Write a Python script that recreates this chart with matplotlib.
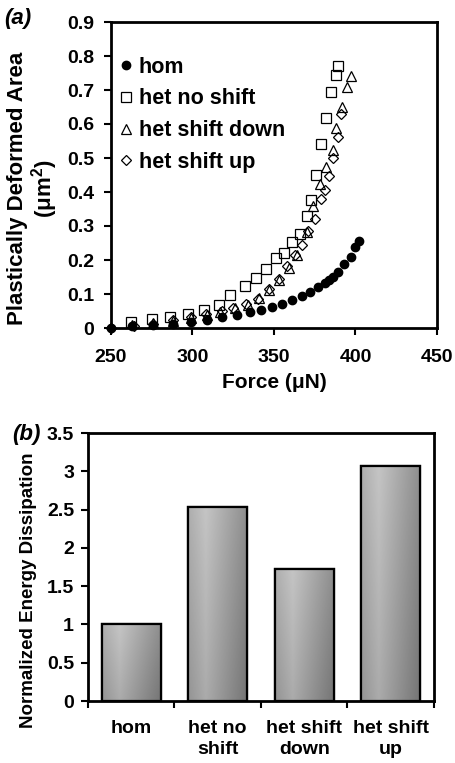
import numpy as np
import matplotlib
matplotlib.use("Agg")
import matplotlib.pyplot as plt

plt.rcParams.update({
    'font.family': ['Liberation Sans', 'DejaVu Sans'],
    'font.weight': 'bold',
    'axes.labelweight': 'bold',
    'mathtext.default': 'regular',
    'font.size': 14,
})

# (a) plastically deformed area vs force
hom_force = [250, 263, 276, 288, 299, 309, 318, 327, 335, 342, 349, 355, 361,
             367, 372, 377, 381, 384, 386, 389, 393, 397, 400, 402]
hom_area = [0, 0.005, 0.008, 0.013, 0.018, 0.023, 0.032, 0.038, 0.046, 0.053,
            0.062, 0.070, 0.082, 0.094, 0.105, 0.120, 0.132, 0.142, 0.150,
            0.164, 0.188, 0.209, 0.238, 0.257]

noshift_force = [262, 275, 286, 297, 307, 316, 323, 332, 339, 345, 351, 356,
                 361, 366, 370, 373, 376, 379, 382, 385, 388, 389]
noshift_area = [0.017, 0.026, 0.031, 0.042, 0.053, 0.067, 0.096, 0.123, 0.146,
                0.175, 0.205, 0.222, 0.254, 0.277, 0.328, 0.376, 0.451, 0.542,
                0.619, 0.694, 0.745, 0.770]

down_force = [263, 276, 288, 299, 309, 317, 326, 334, 341, 347, 353, 359, 364,
              370, 374, 378, 382, 386, 388, 392, 395, 397]
down_area = [0.008, 0.015, 0.020, 0.029, 0.037, 0.046, 0.058, 0.068, 0.088,
             0.113, 0.142, 0.176, 0.216, 0.282, 0.360, 0.424, 0.475, 0.524,
             0.588, 0.650, 0.709, 0.742]

up_force = [250, 264, 276, 288, 299, 308, 318, 325, 333, 340, 347, 353, 358,
            363, 367, 371, 375, 379, 381, 384, 386, 389, 391]
up_area = [0, 0.007, 0.013, 0.025, 0.032, 0.040, 0.051, 0.060, 0.072, 0.085,
           0.115, 0.145, 0.181, 0.216, 0.244, 0.285, 0.321, 0.378, 0.406,
           0.447, 0.501, 0.562, 0.630]

# (b) normalized energy dissipation
categories = ['hom', 'het no\nshift', 'het shift\ndown', 'het shift\nup']
energy = [1.0, 2.54, 1.73, 3.07]

W, H = 456, 763
fig = plt.figure(figsize=(W / 100, H / 100), dpi=100)

############## (a) ##############
ax1 = fig.add_axes([111 / W, 1 - 328 / H, 326 / W, 306 / H])
ax1.plot(hom_force, hom_area, 'o', color='black', ms=6, label='hom', clip_on=False, zorder=5)
ax1.plot(noshift_force, noshift_area, 's', mfc='none', mec='black', mew=0.9, ms=6.5, label='het no shift')
ax1.plot(down_force, down_area, '^', mfc='none', mec='black', mew=0.9, ms=7, label='het shift down')
ax1.plot(up_force, up_area, 'D', mfc='none', mec='black', mew=0.9, ms=5, label='het shift up', clip_on=False)

ax1.set_xlim(250, 450)
ax1.set_ylim(0, 0.9)
ax1.set_xticks([250, 300, 350, 400, 450])
ax1.set_yticks(np.arange(0, 0.91, 0.1))
ax1.set_yticklabels(['0'] + ['%.1f' % v for v in np.arange(0.1, 0.91, 0.1)])
ax1.tick_params(direction='out', length=5, width=1.5, labelsize=14)
ax1.tick_params(axis='x', pad=10)
ax1.tick_params(axis='y', pad=7)
for s in ax1.spines.values():
    s.set_linewidth(2)
ax1.set_xlabel('Force (μN)', fontsize=15, labelpad=5)
ax1.set_ylabel('Plastically Deformed Area\n(μm$^2$)', fontsize=16,
               linespacing=1.05)
ax1.yaxis.set_label_coords(-0.155, 0.455)
ax1.legend(loc='upper left', frameon=False, fontsize=15.5, handletextpad=0.15,
           handlelength=0.9, labelspacing=0.5, borderaxespad=0.0,
           bbox_to_anchor=(-0.01, 0.915))
fig.text(4 / W, 1 - 8 / H, '(a)', style='italic', weight='bold', fontsize=16, va='top')

############## (b) ##############
ax2 = fig.add_axes([88 / W, 1 - 701 / H, 346 / W, 268 / H])
x = np.arange(len(categories))
bars = ax2.bar(x, energy, width=0.68, color='#a8a8a8', edgecolor='black',
               linewidth=1.6, zorder=2)

# shaded fill like the original
u = np.linspace(0, 1, 60)
v = np.linspace(0, 1, 60)
U, V = np.meshgrid(u, v)
shade = 0.77 - 0.30 * np.abs(U - 0.3) - 0.10 * V
for b in bars:
    bx, by = b.get_x(), b.get_y()
    bw, bh = b.get_width(), b.get_height()
    im = ax2.imshow(shade, cmap='gray', vmin=0, vmax=1, aspect='auto',
                    extent=[bx, bx + bw, by, by + bh], zorder=2.5,
                    interpolation='bilinear')
    im.set_clip_path(b)
    ax2.bar(bx + bw / 2, bh, width=bw, fill=False, edgecolor='black',
            linewidth=1.6, zorder=3)

ax2.set_xlim(-0.5, 3.5)
ax2.set_ylim(0, 3.5)
ax2.set_yticks(np.arange(0, 3.51, 0.5))
ax2.set_yticklabels(['0', '0.5', '1', '1.5', '2', '2.5', '3', '3.5'])
ax2.set_xticks(np.arange(-0.5, 3.6, 1.0))
ax2.set_xticklabels([])
ax2.set_xticks(x, minor=True)
ax2.set_xticklabels(categories, minor=True, linespacing=1.25)
ax2.tick_params(axis='x', which='minor', length=0, pad=14, labelsize=14)
ax2.tick_params(axis='both', which='major', direction='out', length=5,
                width=1.5, labelsize=14, pad=5)
for s in ax2.spines.values():
    s.set_linewidth(2)
ax2.set_ylabel('Normalized Energy Dissipation', fontsize=13.5)
ax2.yaxis.set_label_coords(-0.148, 0.415)
fig.text(12 / W, 1 - 424 / H, '(b)', style='italic', weight='bold', fontsize=16, va='top')

fig.savefig('out.png', dpi=100)
